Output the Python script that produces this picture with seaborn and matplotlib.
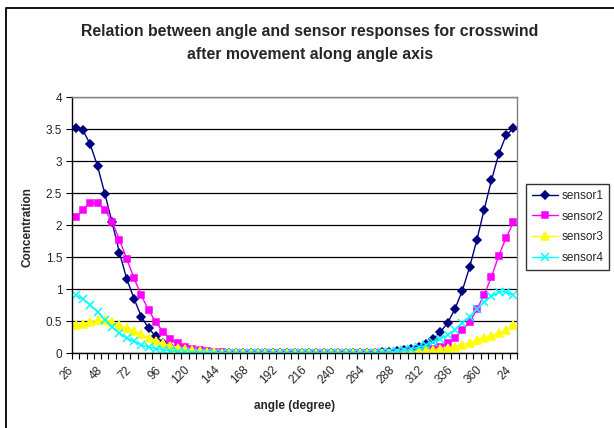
import matplotlib
matplotlib.use("Agg")
import matplotlib.pyplot as plt
import matplotlib.transforms as mtransforms
from matplotlib.lines import Line2D
from matplotlib.ticker import FixedLocator, FuncFormatter
import seaborn as sns

# angle categories as written on the sheet (wraps past 360)
angles = [26, 30, 36, 42, 48, 54, 60, 66, 72, 78, 84, 90, 96, 102, 108, 114,
          120, 126, 132, 138, 144, 150, 156, 162, 168, 174, 180, 186, 192, 198,
          204, 210, 216, 222, 228, 234, 240, 246, 252, 258, 264, 270, 276, 282,
          288, 294, 300, 306, 312, 318, 324, 330, 336, 342, 348, 354, 360,
          6, 12, 18, 24]

sensor1 = ([3.51, 3.48, 3.26, 2.92, 2.49, 2.04, 1.57, 1.16, 0.85, 0.57, 0.385,
            0.26, 0.16, 0.09, 0.05, 0.03, 0.02, 0.01]
           + [0.0] * 24
           + [0.01, 0.02, 0.03, 0.05, 0.07, 0.10, 0.145, 0.22, 0.33, 0.47,
              0.69, 0.975, 1.34, 1.77, 2.24, 2.70, 3.11, 3.40, 3.51])
sensor2 = ([2.12, 2.24, 2.34, 2.34, 2.24, 2.05, 1.77, 1.47, 1.17, 0.90, 0.67,
            0.48, 0.33, 0.22, 0.15, 0.10, 0.07, 0.05, 0.03, 0.02, 0.01]
           + [0.0] * 24
           + [0.01, 0.02, 0.03, 0.05, 0.07, 0.10, 0.155, 0.235, 0.355, 0.48,
              0.68, 0.91, 1.19, 1.52, 1.80, 2.04])
sensor3 = ([0.43, 0.46, 0.49, 0.51, 0.51, 0.49, 0.44, 0.39, 0.34, 0.29, 0.235,
            0.19, 0.15, 0.115, 0.085, 0.065, 0.045, 0.03, 0.02, 0.01, 0.005]
           + [0.0] * 23
           + [0.005, 0.01, 0.02, 0.03, 0.04, 0.05, 0.07, 0.085, 0.10, 0.13,
              0.155, 0.20, 0.23, 0.27, 0.31, 0.365, 0.43])
sensor4 = ([0.90, 0.845, 0.75, 0.64, 0.52, 0.41, 0.31, 0.23, 0.18, 0.13, 0.09,
            0.07, 0.05, 0.03, 0.02, 0.01, 0.005, 0.0]
           + [0.0] * 23
           + [0.005, 0.01, 0.02, 0.03, 0.04, 0.06, 0.09, 0.12, 0.165, 0.22,
              0.28, 0.365, 0.47, 0.57, 0.69, 0.79, 0.885, 0.95, 0.96, 0.90])

series_names = ["sensor1", "sensor2", "sensor3", "sensor4"]
series_values = [sensor1, sensor2, sensor3, sensor4]
series_colors = ["#000080", "#FF00FF", "#FFFF00", "#00FFFF"]
series_markers = ["D", "s", "^", "x"]
marker_sizes = [4.5, 5, 6, 5.5]

sns.set_style("white")
plt.rcParams["font.family"] = ["Liberation Sans", "DejaVu Sans"]

fig = plt.figure(figsize=(6.14, 4.28), dpi=100)
ax = fig.add_axes([72 / 614, 1 - 353 / 428, 445 / 614, 256 / 428])

pos = list(range(len(angles)))
for name, vals, col, mk, ms in zip(series_names, series_values, series_colors,
                                   series_markers, marker_sizes):
    sns.lineplot(x=pos, y=vals, ax=ax, color=col, marker=mk, markersize=ms,
                 markeredgecolor=col, markerfacecolor=col, markeredgewidth=1.1,
                 linewidth=1, label=name, sort=False)

ax.set_xlim(-0.5, len(angles) - 0.5)
ax.set_ylim(0, 4)
ax.set_yticks([0, 0.5, 1, 1.5, 2, 2.5, 3, 3.5, 4])
ax.yaxis.set_major_formatter(FuncFormatter(lambda v, p: f"{v:g}"))
ax.grid(axis="y", color="black", linewidth=0.9)
ax.set_axisbelow(True)

lab_idx = list(range(0, len(angles), 4))
ax.xaxis.set_major_locator(FixedLocator(lab_idx))
ax.set_xticklabels([str(angles[i]) for i in lab_idx])
ax.xaxis.set_minor_locator(FixedLocator([i - 0.5 for i in range(len(angles) + 1)]))
ax.tick_params(axis="x", which="major", length=0, pad=11, labelsize=8.5)
ax.tick_params(axis="x", which="minor", length=4, width=0.8, direction="out",
               color="black", bottom=True)
ax.tick_params(axis="y", which="major", length=4, width=0.8, direction="out",
               color="black", left=True, labelsize=8.5, pad=3)
offset = mtransforms.ScaledTranslation(-4 / 100, 0, fig.dpi_scale_trans)
for lbl in ax.get_xticklabels():
    lbl.set_rotation(45)
    lbl.set_ha("right")
    lbl.set_va("center")
    lbl.set_rotation_mode("anchor")
    lbl.set_transform(lbl.get_transform() + offset)

for side in ["left", "bottom"]:
    ax.spines[side].set_color("black")
    ax.spines[side].set_linewidth(1)
for side in ["top", "right"]:
    ax.spines[side].set_color("#808080")
    ax.spines[side].set_linewidth(1)

ax.set_xlabel("")
ax.set_ylabel("")
fig.text(295 / 614, 1 - 406 / 428, "angle (degree)", ha="center", va="center",
         fontsize=8.5, fontweight="bold")
fig.text(28 / 614, 1 - 227 / 428, "Concentration", ha="center", va="center",
         rotation=90, fontsize=8.5, fontweight="bold")
fig.text(310 / 614, 1 - 43 / 428,
         "Relation between angle and sensor responses for crosswind\nafter movement along angle axis",
         ha="center", va="center", fontsize=11.4, fontweight="bold", linespacing=1.6)

ax.get_legend().remove()
handles, labels = ax.get_legend_handles_labels()
leg = fig.legend(handles, labels, loc="center left",
                 bbox_to_anchor=(526 / 614, 1 - 227 / 428),
                 bbox_transform=fig.transFigure, frameon=True, fancybox=False,
                 fontsize=8.5, handlelength=2.2, handletextpad=0.3,
                 labelspacing=0.75, borderpad=0.5, borderaxespad=0)
leg.get_frame().set_edgecolor("black")
leg.get_frame().set_linewidth(1)

# chart-area border (only left and top edges fall inside the picture)
fig.add_artist(Line2D([6 / 614, 6 / 614, 1.01], [-0.01, 1 - 8 / 428, 1 - 8 / 428],
                      transform=fig.transFigure, color="black", linewidth=1.3))

fig.savefig("out.png", dpi=100)
